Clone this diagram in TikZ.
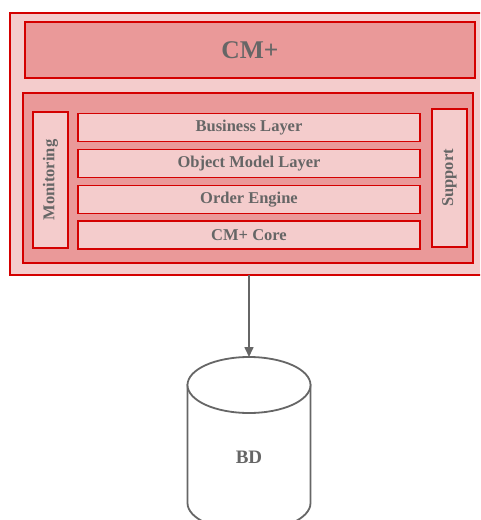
\documentclass[tikz,border=0pt]{standalone}
\usepackage{fontspec}
\setmainfont{Liberation Serif}
\usetikzlibrary{arrows.meta}
\definecolor{lightred}{HTML}{F4CCCC}
\definecolor{midred}{HTML}{EA9999}
\definecolor{borderred}{HTML}{D40000}
\definecolor{txtgray}{HTML}{666666}
\tikzset{
  box/.style={draw=borderred, line width=1.6pt, inner sep=0pt, outer sep=0pt, text=txtgray, font=\bfseries\fontsize{16.5}{19}\selectfont},
  outerbox/.style={box, fill=lightred, line width=1.2pt},
  darkbox/.style={box, fill=midred},
  layerbox/.style={box, fill=lightred, minimum width=342pt, minimum height=28pt},
  sidebox/.style={box, fill=lightred, rotate=90, minimum height=35pt},
  conn/.style={draw=txtgray, line width=1.6pt, -{Triangle[length=10pt,width=9pt]}},
  cyl/.style={draw=txtgray, line width=1.8pt, fill=white}
}
\begin{document}
\begin{tikzpicture}[x=1pt,y=-1pt]
\useasboundingbox (0,0) rectangle (480,520);
\clip (0,0) rectangle (480,520);
\node[outerbox, minimum width=478pt, minimum height=262pt] (outer) at (249,144) {};
\node[darkbox, minimum width=450pt, minimum height=56pt, font=\bfseries\fontsize{25.5}{30}\selectfont] (title) at (250,50) {CM+};
\node[darkbox, minimum width=450pt, minimum height=170pt] (inner) at (248,178) {};
\node[sidebox, minimum width=136pt] (mon) at (50.5,180) {Monitoring};
\node[sidebox, minimum width=138pt] (sup) at (449.5,178) {Support};
\node[layerbox] (bus) at (249,127.5) {Business Layer};
\node[layerbox] (obj) at (249,163.5) {Object Model Layer};
\node[layerbox] (ord) at (249,199.5) {Order Engine};
\node[layerbox] (core) at (249,235) {CM+ Core};
% database cylinder
\path[cyl] (187.5,385) -- (187.5,503) arc (180:0:61.5 and 28) -- (310.5,385) -- cycle;
\draw[cyl] (249,385) ellipse (61.5 and 28);
\coordinate (dbtop) at (249,357);
\node[text=txtgray, font=\bfseries\fontsize{19}{22}\selectfont] (db) at (249,457) {BD};
\draw[conn] (outer.south) -- (dbtop);
\end{tikzpicture}
\end{document}
